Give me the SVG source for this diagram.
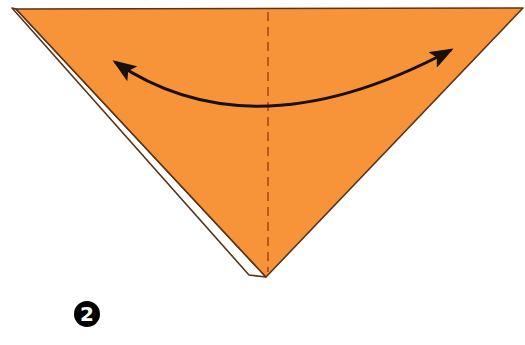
<svg xmlns="http://www.w3.org/2000/svg" width="525" height="345" viewBox="0 0 525 345">
  <style>
    .edge { stroke: #5a3418; stroke-width: 1.6; stroke-linejoin: round; }
    .fold { stroke: #b8401a; stroke-width: 1.6; stroke-dasharray: 9 6; fill: none; }
    .arrow { stroke: #1a0f0a; stroke-width: 3; fill: none; }
    .num { font-family: "DejaVu Sans", "Liberation Sans", sans-serif; font-weight: bold; font-size: 20px; fill: #ffffff; }
  </style>
  <defs>
    <marker id="ah2" viewBox="0 0 24 18" refX="21" refY="9" markerWidth="24" markerHeight="18" markerUnits="userSpaceOnUse" orient="auto-start-reverse">
      <path d="M0,0 L24,9 L0,18 L5,9 Z" fill="#1a0f0a"/>
    </marker>
  </defs>
  <rect width="525" height="345" fill="#ffffff"/>
  <g id="paper">
    <polygon points="12,8 249,275 266,277 16,9" fill="#ffffff" class="edge"/>
    <polygon points="16,9 523,8 266,277" fill="#F7943A" class="edge"/>
  </g>
  <g id="connectors">
    <line x1="268" y1="12" x2="268" y2="272" class="fold"/>
    <path d="M115,62 Q253,156 451,50" class="arrow" marker-start="url(#ah2)" marker-end="url(#ah2)"/>
  </g>
  <g id="step-label">
    <circle cx="87" cy="314" r="13" fill="#000000"/>
    <text x="87" y="321" text-anchor="middle" class="num">2</text>
  </g>
</svg>
